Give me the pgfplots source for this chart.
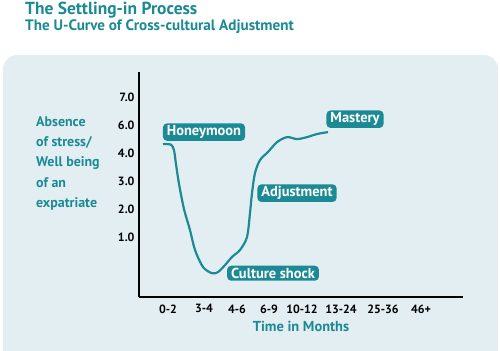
\documentclass[border=0pt]{standalone}
\usepackage{pgfplots}
\pgfplotsset{compat=1.18}
\usepackage{fontspec}
\setmainfont{PT Sans}
\definecolor{teal1}{HTML}{1B8A94}
\definecolor{panel}{HTML}{E3EEF3}
\begin{document}
\begin{tikzpicture}[x=1bp,y=1bp]
\useasboundingbox (0,0) rectangle (500,350);
\fill[white] (0,0) rectangle (500,350);
\begin{scope}
\clip (0,0) rectangle (500,350);
\fill[panel,rounded corners=14bp] (3,-20) rectangle (498,295);
\end{scope}
\node[anchor=west,text=teal1,font=\bfseries\fontsize{17.5}{18}\selectfont,inner sep=0] at (25,340) {The Settling-in Process};
\node[anchor=west,text=teal1,font=\bfseries\fontsize{15.2}{16}\selectfont,inner sep=0] at (25,323) {The U-Curve of Cross-cultural Adjustment};
\node[anchor=north west,align=left,text=teal1,font=\bfseries\fontsize{14}{20.5}\selectfont,inner sep=0] at (36,234) {Absence\\of stress/\\Well being\\of an\\expatriate};
\begin{axis}[
  at={(139bp,53bp)}, anchor=south west,
  x=1bp, y=28bp,
  xmin=139, xmax=463, ymin=-1.14, ymax=6.89,
  axis x line*=bottom, axis y line*=left,
  axis line style={line width=1.2pt,-},
  major tick length=0pt,
  ytick={1,2,3,4,5,6},
  yticklabels={1.0,2.0,3.0,4.0,6.0,7.0},
  xtick={168,204,237,269,302,341,383,421},
  xticklabels={0-2,3-4,4-6,6-9,10-12,13-24,25-36,46+},
  tick label style={font=\bfseries\fontsize{12}{13}\selectfont},
  /pgf/number format/assume math mode=true,
  yticklabel style={xshift=-1bp},
  xticklabel style={yshift=-4bp},
  xlabel={Time in Months},
  xlabel style={text=teal1,font=\bfseries\fontsize{14.5}{15}\selectfont,yshift=-1bp},
  clip=false,
]
\addplot[teal1,line width=2.2pt,smooth,tension=0.5] coordinates {
(163,4.32) (171,4.3) (174,4.1) (176,3.6) (179,2.9) (184,2.0) (190,1.25) (195,0.54)
(203,-0.07) (212,-0.29) (218,-0.25) (225,0) (232,0.29) (240,0.54) (247,1.0)
(250,1.86) (252,2.57) (255,3.29) (260,3.75) (268,4.04) (277,4.39) (287,4.57)
(297,4.5) (307,4.57) (317,4.68) (328,4.75)
};
\tikzset{lbl/.style={fill=teal1,text=white,rounded corners=4bp,inner xsep=4bp,inner ysep=2.2bp,font=\bfseries\fontsize{14.5}{15}\selectfont}}
\node[lbl] at (axis cs:204,4.75) {Honeymoon};
\node[lbl] at (axis cs:355,5.21) {Mastery};
\node[lbl] at (axis cs:297,2.57) {Adjustment};
\node[lbl] at (axis cs:273,-0.29) {Culture shock};
\end{axis}
\end{tikzpicture}
\end{document}
